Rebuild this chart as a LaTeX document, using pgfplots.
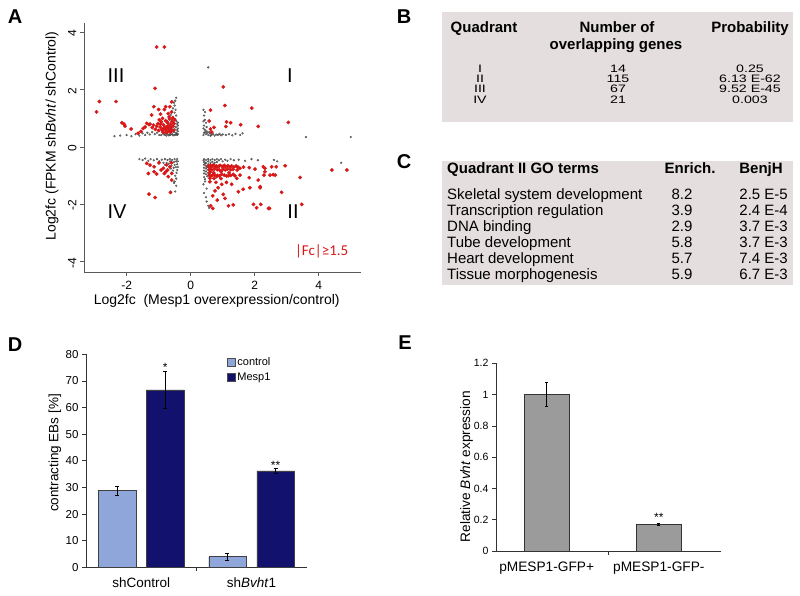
\documentclass[border=0pt]{standalone}
\usepackage{fontspec}
\setmainfont{Liberation Sans}
\newfontfamily\calibri{Carlito}
\usepackage{pgfplots}
\pgfplotsset{compat=1.18}
\definecolor{redpt}{HTML}{D81818}
\definecolor{tabbg}{HTML}{E4DEDE}
\definecolor{ctrl}{HTML}{8EA6DA}
\definecolor{mesp}{HTML}{12126E}
\definecolor{barg}{HTML}{9B9B9B}
\newcommand{\fs}[1]{\fontsize{#1}{#1}\selectfont}
\begin{document}
\begin{tikzpicture}[x=1pt,y=1pt]
\path[use as bounding box] (0,0) rectangle (800,595);
% ---------------- Panel A ----------------
\begin{axis}[at={(84pt,323pt)}, anchor=south west, scale only axis,
  width=277pt, height=249pt,
  xmin=-3.33, xmax=5.32, ymin=-4.36, ymax=4.33,
  axis x line*=bottom, axis y line*=left,
  axis line style={black!65, line width=0.6pt},
  xtick={-2,0,2,4}, ytick={-4,-2,0,2,4},
  tick align=outside, major tick length=4pt, tick style={black!65, line width=0.6pt},
  yticklabel style={rotate=90, anchor=south, xshift=-1pt},
  ticklabel style={font=\fs{12}},
  xticklabel style={yshift=-2pt},
  /pgf/number format/assume math mode=true, clip=false]
\addplot[only marks, mark=*, color=black!70, mark size=0.9pt, mark options={draw=none, fill=black, fill opacity=0.35}] coordinates {
(-2.38,0.38) (-2.2,0.4) (-2.0,0.42) (-1.85,0.38) (-1.72,0.45) (-1.6,0.4) (-1.5,0.48) (-1.42,0.42) (-1.35,0.5) (-1.28,0.44) (-1.2,0.52) (-1.12,0.45) (-1.05,0.5) (-0.98,0.42)
(-0.45,1.72) (-0.48,1.62) (-0.52,1.55) (-0.5,1.45) (-0.55,1.35) (-0.47,1.3) (-0.58,1.25) (-0.5,1.2) (-0.62,1.12) (-0.45,1.1) (-0.55,1.05) (-0.68,1.0) (-0.48,0.98) (-0.6,0.95) (-0.72,0.9)
(-0.42,0.42) (-0.45,0.5) (-0.42,0.6) (-0.46,0.7) (-0.42,0.8) (-0.44,0.9) (-0.5,0.42) (-0.52,0.52) (-0.5,0.62) (-0.53,0.72) (-0.5,0.82) (-0.58,0.45) (-0.57,0.55) (-0.6,0.65) (-0.58,0.75) (-0.56,0.85) (-0.65,0.42) (-0.64,0.5) (-0.66,0.6) (-0.68,0.72) (-0.72,0.45) (-0.7,0.55) (-0.75,0.65) (-0.8,0.42) (-0.78,0.52) (-0.85,0.45) (-0.88,0.55) (-0.92,0.42) (-0.4,0.45) (-0.4,0.55) (-0.4,0.65) (-0.4,0.75) (-0.4,0.85) (-0.43,0.46) (-0.47,0.44) (-0.55,0.41) (-0.62,0.44) (-0.69,0.41) (-0.76,0.4) (-0.82,0.48)
(0.4,1.3) (0.45,1.22) (0.42,1.1) (0.4,0.9) (0.48,0.85) (0.42,0.75) (0.4,0.65) (0.45,0.6) (0.5,0.55) (0.42,0.5) (0.4,0.42) (0.48,0.45) (0.55,0.42) (0.6,0.48) (0.65,0.42) (0.7,0.45) (0.75,0.4) (0.8,0.44) (0.85,0.42) (0.9,0.46) (0.95,0.41) (1.0,0.44) (1.1,0.42) (1.2,0.45) (1.3,0.41) (1.4,0.46) (1.55,0.42) (1.62,0.48) (0.52,0.5) (0.58,0.52) (0.45,0.52) (0.62,0.4) (0.55,2.78) (3.6,0.35) (5.0,0.35) (0.5,0.7) (0.44,0.95)
(-1.6,-0.42) (-1.5,-0.45) (-1.42,-0.4) (-1.32,-0.48) (-1.25,-0.42) (-1.15,-0.46) (-1.05,-0.42) (-0.98,-0.5) (-0.9,-0.44) (-0.85,-0.55) (-0.8,-0.42)
(-0.42,-0.42) (-0.45,-0.5) (-0.42,-0.6) (-0.46,-0.7) (-0.42,-0.8) (-0.44,-0.9) (-0.5,-0.42) (-0.52,-0.52) (-0.5,-0.62) (-0.53,-0.72) (-0.58,-0.45) (-0.57,-0.55) (-0.6,-0.65) (-0.65,-0.42) (-0.64,-0.5) (-0.68,-0.58) (-0.72,-0.45) (-0.4,-0.5) (-0.4,-0.7) (-0.55,-0.82) (-0.48,-1.0) (-0.45,-1.1) (-0.5,-1.2) (-0.45,-1.35) (-0.48,-1.55) (-0.52,-1.25) (-0.62,-0.75) (-0.75,-0.55) (-0.8,-0.62)
(0.42,-0.42) (0.42,-0.52) (0.42,-0.62) (0.42,-0.72) (0.42,-0.82) (0.42,-0.92) (0.42,-1.05) (0.48,-0.45) (0.48,-0.55) (0.48,-0.65) (0.48,-0.75) (0.48,-0.85) (0.48,-0.95) (0.55,-0.42) (0.55,-0.5) (0.55,-0.6) (0.55,-0.7) (0.55,-0.8) (0.55,-0.9) (0.62,-0.45) (0.62,-0.55) (0.62,-0.88) (0.68,-0.42) (0.68,-0.52) (0.68,-0.62) (0.75,-0.45) (0.75,-0.55) (0.82,-0.42) (0.82,-0.52) (0.88,-0.46) (0.95,-0.42) (1.0,-0.5) (1.08,-0.44) (1.15,-0.48) (1.25,-0.42) (1.35,-0.46) (1.5,-0.44) (1.7,-0.48) (1.9,-0.42) (2.1,-0.46) (2.6,-0.45) (2.7,-0.5) (0.45,-1.2) (0.4,-1.3) (0.5,-1.45) (0.42,-1.6) (0.48,-1.75) (0.5,-1.9) (0.55,-2.05) (0.58,-2.12) (4.7,-0.55) (0.45,-1.12) (0.52,-1.02) (0.6,-1.0) (0.4,-0.46) (0.45,-0.58) (0.5,-0.7)
};
\addplot[only marks, mark=*, color=redpt, mark size=1.7pt, mark options={draw=none, fill=redpt}] coordinates {
(-1.06,3.49) (-0.82,3.49) (-1.11,2.05) (-2.85,1.59) (-2.33,1.59) (-2.94,1.23) (-2.15,0.85) (-2.08,0.80) (-2.05,0.73) (-1.86,0.63) (-1.48,0.65) (-1.15,1.41) (-1.0,1.31) (-0.82,1.31) (-0.78,1.41) (-0.65,1.41) (-0.59,1.58) (-1.22,1.12) (-0.94,1.15) (-0.70,1.17) (-1.37,0.83) (-1.27,0.80) (-1.16,0.77) (-1.06,0.73) (-1.64,0.48)
(-0.98,0.95) (-0.92,0.88) (-0.88,1.0) (-0.85,0.78) (-0.80,0.70) (-0.78,0.92) (-0.75,0.62) (-0.72,0.85) (-0.70,0.75) (-0.68,0.55) (-0.66,0.98) (-0.64,0.68) (-0.62,0.80) (-0.60,0.60) (-0.58,0.90) (-0.90,0.62) (-0.95,0.70) (-1.0,0.58) (-0.86,0.52) (-0.76,0.50) (-0.55,0.72) (-0.53,0.58) (-1.1,0.62) (-1.2,0.68) (-0.67,1.05) (-0.84,0.66) (-0.74,0.70) (-0.94,0.80) (-1.02,0.82) (-0.56,1.02) (-0.60,1.22) (-0.50,0.95) (-1.3,0.78) (-1.42,0.70) (-1.55,0.55) (-0.88,0.58) (-0.79,0.60) (-0.70,0.64) (-0.63,0.52) (-0.52,0.82)
(1.02,2.10) (0.62,1.29) (1.07,1.45) (1.91,1.36) (0.58,0.91) (1.12,0.88) (1.25,0.85) (1.56,0.78) (2.11,0.72) (3.05,0.86) (1.10,0.72) (0.73,0.69) (0.62,0.63) (0.66,0.52)
(-1.30,-1.64) (-1.11,-1.76) (-0.63,-1.58) (-1.37,-0.57) (-1.27,-0.63) (-1.14,-0.69) (-0.99,-0.55) (-1.32,-0.92) (-1.14,-0.86) (-1.06,-0.94) (-0.85,-0.74) (-0.77,-0.86) (-0.72,-0.80) (-0.65,-0.69) (-0.59,-0.92) (-0.70,-1.03) (-0.59,-1.15) (-0.82,-0.92) (-0.75,-0.62) (-0.60,-0.55) (-0.92,-0.80)
(4.41,-0.80) (4.88,-0.80) (3.42,-1.06) (3.47,-2.0) (2.84,-1.58) (2.95,-0.65) (2.58,-0.96) (2.53,-0.69) (2.67,-0.69) (2.32,-0.74) (2.32,-0.86) (2.17,-1.38) (2.43,-2.14)
(0.625,-0.72) (0.76,-0.69) (0.895,-0.65) (1.02,-0.72) (0.69,-0.98) (0.81,-1.03) (0.97,-0.95) (1.18,-1.0) (1.33,-0.95) (1.54,-0.74) (1.54,-0.98) (1.83,-0.72) (2.01,-0.77) (2.27,-0.69) (2.29,-0.98) (2.48,-0.98) (2.64,-0.98) (1.83,-1.07) (2.11,-1.15) (1.85,-1.42) (1.64,-1.47) (1.49,-1.56) (2.17,-1.42) (0.86,-1.42) (0.76,-1.53) (0.69,-1.70) (1.02,-1.65) (1.07,-1.79) (0.83,-1.85) (1.18,-2.05) (0.625,-2.05) (0.69,-2.14) (1.33,-2.02) (1.96,-2.0) (2.06,-2.12) (2.19,-2.0) (2.46,-2.14) (1.28,-1.30) (0.60,-1.21) (0.79,-1.23) (0.97,-1.30) (1.12,-1.23) (1.44,-1.09) (0.60,-1.09) (0.73,-1.09)
(0.55,-0.66) (0.62,-0.64) (0.68,-0.67) (0.72,-0.63) (0.80,-0.66) (0.85,-0.70) (0.92,-0.64) (0.98,-0.67) (1.05,-0.64) (1.10,-0.68) (1.16,-0.65) (1.22,-0.69) (1.28,-0.66) (1.35,-0.70) (1.42,-0.66) (1.48,-0.70)
(0.58,-0.78) (0.66,-0.80) (0.74,-0.77) (0.83,-0.79) (0.90,-0.80) (1.00,-0.78) (1.08,-0.80) (1.15,-0.77) (1.25,-0.79) (1.32,-0.78) (1.45,-0.80)
(0.58,-0.98) (0.65,-1.00) (0.75,-0.97) (0.84,-0.99) (0.90,-1.01) (1.05,-0.98) (1.12,-1.01) (1.25,-0.99) (1.38,-1.00)
(0.60,-0.88) (0.95,-0.86) (0.95,-1.10) (0.72,-0.90) (1.20,-0.90) (1.65,-0.70)
};
\end{axis}
\node[font=\fs{20}] at (116,519.2) {III};
\node[font=\fs{20}] at (290,519.2) {I};
\node[font=\fs{20}] at (117,383.3) {IV};
\node[font=\fs{20}] at (293,383.3) {II};
\node[font=\calibri\fs{15}, text=redpt] at (321.7,344) {|Fc|≥1.5};
\node[font=\fs{14}, anchor=base] at (216.7,290.5) {Log2fc\ \ (Mesp1 overexpression/control)};
\node[font=\fs{14}, rotate=90] at (52,459) {Log2fc (FPKM sh\textit{Bvht}/ shControl)};
% panel letters
\node[font=\bfseries\fs{20}] at (15,578) {A};
\node[font=\bfseries\fs{20}] at (404,578) {B};
\node[font=\bfseries\fs{20}] at (404,433) {C};
\node[font=\bfseries\fs{20}] at (15,250) {D};
\node[font=\bfseries\fs{20}] at (405,252) {E};
% ---------------- Panel B ----------------
\fill[tabbg] (442,473) rectangle (793,583);
\begin{scope}[every node/.style={anchor=base, inner sep=0pt}]
\node[font=\bfseries\fs{15}] at (484,562) {Quadrant};
\node[font=\bfseries\fs{15}] at (617,562) {Number of};
\node[font=\bfseries\fs{15}] at (616,545) {overlapping genes};
\node[font=\bfseries\fs{15}] at (750,562) {Probability};
\end{scope}
\begin{scope}[every node/.style={anchor=base, inner sep=0pt, yscale=0.76, transform shape, font=\fs{14.2}}]
\node at (480,522.2) {I};
\node at (480,512.1) {II};
\node at (480,502) {III};
\node at (480,491.9) {IV};
\node at (618,522.2) {14};
\node at (618,512.1) {115};
\node at (618,502) {67};
\node at (618,491.9) {21};
\node at (750,522.2) {0.25};
\node at (750,512.1) {6.13 E-62};
\node at (750,502) {9.52 E-45};
\node at (750,491.9) {0.003};
\end{scope}
% ---------------- Panel C ----------------
\fill[tabbg] (442,310) rectangle (793,434.3);
\begin{scope}[every node/.style={inner sep=0pt}]
\node[font=\bfseries\fs{15}, anchor=base west] at (447,421.7) {Quadrant II GO terms};
\node[font=\bfseries\fs{15}, anchor=base] at (690,421.7) {Enrich.};
\node[font=\bfseries\fs{15}, anchor=base] at (761,421.7) {BenjH};
\node[font=\fs{15}, anchor=base west] at (447,395) {Skeletal system development};
\node[font=\fs{15}, anchor=base west] at (447,379) {Transcription regulation};
\node[font=\fs{15}, anchor=base west] at (447,363) {DNA binding};
\node[font=\fs{15}, anchor=base west] at (447,347) {Tube development};
\node[font=\fs{15}, anchor=base west] at (447,331) {Heart development};
\node[font=\fs{15}, anchor=base west] at (447,315) {Tissue morphogenesis};
\node[font=\fs{15}, anchor=base] at (682,395) {8.2};
\node[font=\fs{15}, anchor=base] at (682,379) {3.9};
\node[font=\fs{15}, anchor=base] at (682,363) {2.9};
\node[font=\fs{15}, anchor=base] at (682,347) {5.8};
\node[font=\fs{15}, anchor=base] at (682,331) {5.7};
\node[font=\fs{15}, anchor=base] at (682,315) {5.9};
\node[font=\fs{15}, anchor=base east] at (788,395) {2.5 E-5};
\node[font=\fs{15}, anchor=base east] at (788,379) {2.4 E-4};
\node[font=\fs{15}, anchor=base east] at (788,363) {3.7 E-3};
\node[font=\fs{15}, anchor=base east] at (788,347) {3.7 E-3};
\node[font=\fs{15}, anchor=base east] at (788,331) {7.4 E-3};
\node[font=\fs{15}, anchor=base east] at (788,315) {6.7 E-3};
\end{scope}
% ---------------- Panel D ----------------
\begin{axis}[at={(86pt,27.7pt)}, anchor=south west, scale only axis,
  width=220.7pt, height=213pt,
  xmin=0.5, xmax=2.5, ymin=0, ymax=80,
  axis x line*=bottom, axis y line*=left,
  axis line style={black!80, line width=0.7pt},
  ytick={0,10,...,80}, xtick={1,2},
  xticklabels={shControl, sh\textit{Bvht}1},
  xtick style={draw=none},
  ytick style={black!80, line width=0.7pt},
  tick align=outside, major tick length=4pt,
  yticklabel style={font=\fs{11.5}},
  xticklabel style={font=\fs{13.5}, yshift=-3pt},
  /pgf/number format/assume math mode=true,
  legend style={at={(axis cs:1.775,79.5)}, anchor=north west, draw=none, fill=none,
    font=\fs{11}, inner sep=0pt, row sep=3pt, nodes={inner sep=1.5pt}},
  legend image code/.code={\draw[#1, draw=black!70] (0pt,-4.3pt) rectangle (8.6pt,4.3pt);},
  clip=false]
\addplot[ybar, bar shift=0pt, bar width=37.5pt, fill=ctrl, draw=black!75,
  error bars/.cd, y dir=both, y explicit,
  error bar style={black, line width=0.8pt},
  error mark options={rotate=90, mark size=2pt, black, line width=0.8pt}]
  coordinates {(0.782,28.8) +- (0,1.7) (1.782,4.0) +- (0,1.3)};
\addlegendentry{control}
\addplot[ybar, bar shift=0pt, bar width=37.5pt, fill=mesp, draw=black!75,
  error bars/.cd, y dir=both, y explicit,
  error bar style={black, line width=0.8pt},
  error mark options={rotate=90, mark size=2pt, black, line width=0.8pt}]
  coordinates {(1.218,66.6) +- (0,7.0) (2.218,36.2) +- (0,1.1)};
\addlegendentry{Mesp1}
\draw[black!80, line width=0.7pt] (axis cs:1.5,0) -- ++(0pt,-4pt);
\node[font=\fs{12}, anchor=base, inner sep=0pt] at (axis cs:1.218,73.4) {*};
\node[font=\fs{12}, anchor=base, inner sep=0pt] at (axis cs:2.218,36.6) {**};
\end{axis}
\node[font=\fs{13.5}, rotate=90] at (55,142) {contracting EBs [\%]};
% ---------------- Panel E ----------------
\begin{axis}[at={(496pt,44pt)}, anchor=south west, scale only axis,
  width=224.7pt, height=187.7pt,
  xmin=0.548, xmax=2.552, ymin=0, ymax=1.2,
  axis x line*=bottom, axis y line*=left,
  axis line style={black!80, line width=0.7pt},
  ytick={0,0.2,0.4,0.6,0.8,1,1.2}, xtick={1,2},
  xticklabels={pMESP1-GFP+, pMESP1-GFP-},
  xtick style={draw=none},
  ytick style={black!80, line width=0.7pt},
  tick align=outside, major tick length=4pt,
  yticklabel style={font=\fs{10.5}},
  xticklabel style={font=\fs{13.7}, yshift=-3pt},
  /pgf/number format/assume math mode=true,
  clip=false]
\addplot[ybar, bar shift=0pt, bar width=45pt, fill=barg, draw=black!80,
  error bars/.cd, y dir=both, y explicit,
  error bar style={black, line width=0.8pt},
  error mark options={rotate=90, mark size=1.6pt, black, line width=0.8pt}]
  coordinates {(1,1.0) +- (0,0.075) (2,0.172) +- (0,0.006)};
\draw[black!80, line width=0.7pt] (axis cs:1.55,0) -- ++(0pt,-4pt);
\node[font=\fs{12}, anchor=base, inner sep=0pt] at (axis cs:2,0.19) {**};
\end{axis}
\node[font=\fs{13.7}, rotate=90] at (466.7,128.3) {Relative \textit{Bvht} expression};
\end{tikzpicture}
\end{document}
